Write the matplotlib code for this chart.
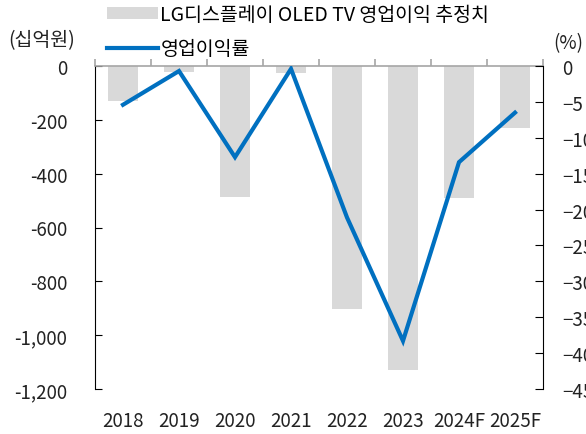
import matplotlib
matplotlib.use('Agg')
import matplotlib.pyplot as plt
from matplotlib.patches import Patch
from matplotlib.lines import Line2D
from matplotlib.ticker import FuncFormatter, FixedLocator

plt.rcParams['font.family'] = ['Noto Sans CJK KR', 'DejaVu Sans']

years = ['2018', '2019', '2020', '2021', '2022', '2023', '2024F', '2025F']
profit = [-130, -23, -488, -27, -903, -1130, -491, -231]   # 십억원
margin = [-5.4, -0.7, -12.7, -0.4, -21.1, -38.3, -13.4, -6.5]  # %

bar_label = 'LG디스플레이 OLED TV 영업이익 추정치'
line_label = '영업이익률'

fs = 13.5
fs_leg = 14
fig = plt.figure(figsize=(5.86, 4.35), dpi=100)
ax = fig.add_axes([95/586, 1-390/435, (543-95)/586, (390-67)/435])
ax2 = ax.twinx()

x = list(range(len(years)))
ax.bar(x, profit, width=0.55, color='#d9d9d9', zorder=1)
ax2.plot(x, margin, color='#0070c0', lw=3.0, solid_joinstyle='miter', zorder=3)

ax.set_xlim(-0.5, len(years) - 0.5)
ax.set_ylim(-1200, 0)
ax2.set_ylim(-45, 0)

ax.set_yticks(range(-1200, 1, 200))
ax.yaxis.set_major_formatter(FuncFormatter(lambda v, p: f'{int(v):,}'))
ax2.set_yticks(range(-45, 1, 5))

ax.set_xticks(x)
ax.set_xticklabels(years)
ax.xaxis.set_minor_locator(FixedLocator([i - 0.5 for i in range(len(years) + 1)]))
ax.tick_params(axis='x', which='major', length=0, pad=15, labelsize=fs, colors='#222222')
ax.tick_params(axis='x', which='minor', top=True, bottom=False, direction='out',
               length=5, color='#a6a6a6', width=1.2)
ax.tick_params(axis='y', direction='in', length=5, pad=20, labelsize=fs, colors='#222222')
ax2.tick_params(axis='y', direction='in', length=6, pad=14, labelsize=fs, colors='#222222')

for s in ['bottom', 'right']:
    ax.spines[s].set_visible(False)
ax.spines['top'].set_color('#a6a6a6')
ax.spines['top'].set_linewidth(1.2)
ax.spines['left'].set_color('black')
for s in ['bottom', 'top', 'left']:
    ax2.spines[s].set_visible(False)
ax2.spines['right'].set_color('black')
ax.tick_params(axis='y', color='black')
ax2.tick_params(axis='y', color='black')

fig.text(8/586, 1-41/435, '(십억원)', fontsize=fs_leg, va='center', ha='left', color='#222222')
fig.text(583/586, 1-44/435, '(%)', fontsize=fs, va='center', ha='right', color='#222222')

handles = [Patch(facecolor='#d9d9d9', edgecolor='none'),
           Line2D([], [], color='#0070c0', lw=3.0)]
fig.legend(handles, [bar_label, line_label], loc='upper left',
           bbox_to_anchor=(103/586, 1 - 1/435), frameon=False, fontsize=fs_leg,
           handlelength=2.63, handleheight=0.55, handletextpad=0.12,
           labelspacing=0.67, borderpad=0.2, borderaxespad=0)

fig.savefig('out.png', dpi=100)
